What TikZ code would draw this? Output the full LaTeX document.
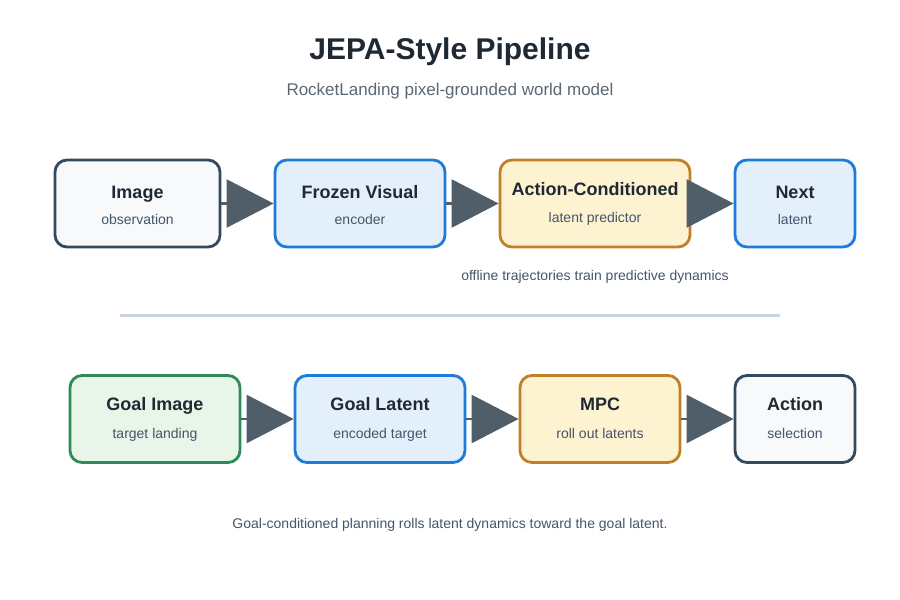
\documentclass[tikz,border=0pt]{standalone}
\usepackage{fontspec}
\setmainfont{Liberation Sans}
\usetikzlibrary{arrows.meta}
\definecolor{ttl}{HTML}{1F2933}
\definecolor{subt}{HTML}{5B6773}
\definecolor{lbl}{HTML}{44556A}
\definecolor{arrc}{HTML}{505E6A}
\definecolor{slateB}{HTML}{34495E}\definecolor{slateF}{HTML}{F7F9FB}
\definecolor{blueB}{HTML}{1E7BD8}\definecolor{blueF}{HTML}{E3F0FC}
\definecolor{orB}{HTML}{C0802A}\definecolor{orF}{HTML}{FEF3D0}
\definecolor{grB}{HTML}{2E8A57}\definecolor{grF}{HTML}{E8F5E9}
\definecolor{sepc}{HTML}{CBD5E1}
\tikzset{
  box/.style={draw, line width=2.8pt, rounded corners=12pt, inner sep=0pt, minimum height=87pt},
  slatebox/.style={box, draw=slateB, fill=slateF},
  bluebox/.style={box, draw=blueB, fill=blueF},
  orbox/.style={box, draw=orB, fill=orF},
  grbox/.style={box, draw=grB, fill=grF},
  ttext/.style={font=\fontsize{18}{21}\selectfont\bfseries, text=ttl, inner sep=0pt, anchor=base},
  stext/.style={font=\fontsize{14}{17}\selectfont, text=lbl, inner sep=0pt, anchor=base},
  captext/.style={font=\fontsize{14}{17}\selectfont, text=lbl, inner sep=0pt, anchor=base},
  arr/.style={draw=arrc, line width=2.5pt, -{Triangle[length=47pt,width=48pt]}, fill=arrc},
}
\begin{document}
\begin{tikzpicture}[x=1pt,y=-1pt]
\useasboundingbox (0,0) rectangle (900,600);
\node[font=\fontsize{30}{34}\selectfont\bfseries, text=ttl, inner sep=0pt, anchor=base] (title) at (450,59) {JEPA-Style Pipeline};
\node[font=\fontsize{17}{20}\selectfont, text=subt, inner sep=0pt, anchor=base] (subtitle) at (450,95) {RocketLanding pixel-grounded world model};
% top row
\node[slatebox, minimum width=165pt] (img) at (137.5,203.5) {};
\node[bluebox, minimum width=170pt] (fv) at (360,203.5) {};
\node[orbox, minimum width=190pt] (ac) at (595,203.5) {};
\node[bluebox, minimum width=120pt] (nx) at (795,203.5) {};
\node[ttext] (imgT) at (137.5,198.5) {Image};
\node[stext] (imgS) at (137.5,224.5) {observation};
\node[ttext] (fvT) at (360,198.5) {Frozen Visual};
\node[stext] (fvS) at (360,224.5) {encoder};
\node[ttext] (acT) at (595,195) {Action-Conditioned};
\node[stext] (acS) at (595,222) {latent predictor};
\node[ttext] (nxT) at (795,198.5) {Next};
\node[stext] (nxS) at (795,224.5) {latent};
\draw[arr] (img.east) -- (fv.west);
\draw[arr] (fv.east) -- (ac.west);
\draw[arr] (ac.east) -- (nx.west);
\node[captext] (cap1) at (595,280) {offline trajectories train predictive dynamics};
% separator
\coordinate (sepL) at (120,315);
\coordinate (sepR) at (780,315);
\draw[sepc, line width=3pt] (sepL) -- (sepR);
% bottom row
\node[grbox, minimum width=170pt] (gi) at (155,419) {};
\node[bluebox, minimum width=170pt] (gl) at (380,419) {};
\node[orbox, minimum width=160pt] (mpc) at (600,419) {};
\node[slatebox, minimum width=120pt] (act) at (795,419) {};
\node[ttext] (giT) at (155,410.5) {Goal Image};
\node[stext] (giS) at (155,438.5) {target landing};
\node[ttext] (glT) at (380,410.5) {Goal Latent};
\node[stext] (glS) at (380,438.5) {encoded target};
\node[ttext] (mpcT) at (600,410.5) {MPC};
\node[stext] (mpcS) at (600,438.5) {roll out latents};
\node[ttext] (actT) at (795,410.5) {Action};
\node[stext] (actS) at (795,438.5) {selection};
\draw[arr] (gi.east) -- (gl.west);
\draw[arr] (gl.east) -- (mpc.west);
\draw[arr] (mpc.east) -- (act.west);
\node[captext] (cap2) at (450,528) {Goal-conditioned planning rolls latent dynamics toward the goal latent.};
\end{tikzpicture}
\end{document}
